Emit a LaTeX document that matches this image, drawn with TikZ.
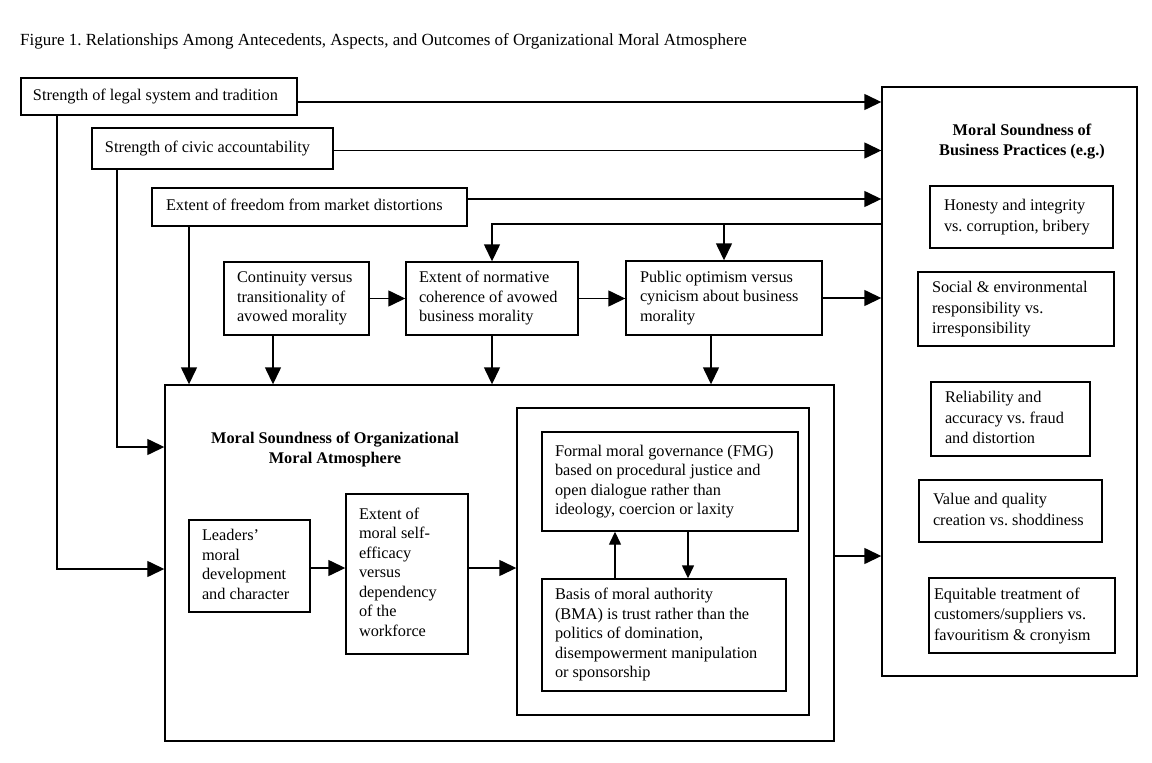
\documentclass[tikz,border=0pt]{standalone}
\usepackage{fontspec}
\setmainfont{Liberation Serif}
\usetikzlibrary{arrows.meta,calc}
\tikzset{
  bx/.style={draw, line width=1.4bp, inner ysep=0pt,
    font=\fontsize{16.3bp}{19.5bp}\selectfont},
  rb/.style={font=\fontsize{16.3bp}{20.5bp}\selectfont},
  ttl/.style={align=center, inner sep=0pt,
    font=\fontsize{16.3bp}{20bp}\selectfont\bfseries},
  arr/.style={line width=1.4bp, -{Triangle[length=17bp,width=16bp]}},
  sarr/.style={line width=1.4bp, -{Triangle[length=13bp,width=12bp]}},
  ln/.style={line width=1.4bp},
}
\newcommand{\mkbox}[8][]{%
  \pgfmathsetmacro{\mbW}{#5-#3}%
  \pgfmathsetmacro{\mbH}{#6-#4}%
  \pgfmathsetmacro{\mbT}{#5-#3-2*#7}%
  \pgfmathsetmacro{\mbX}{(#3+#5)/2}%
  \pgfmathsetmacro{\mbY}{(#4+#6)/2}%
  \node[bx, #1, minimum width=\mbW bp, minimum height=\mbH bp, inner xsep=#7 bp] (#2) at (\mbX,\mbY)
    {\makebox[\mbT bp][l]{\begin{tabular}{@{}l@{}}#8\end{tabular}}};}
\begin{document}
\frenchspacing
\begin{tikzpicture}[x=1bp,y=-1bp]
\useasboundingbox (0,0) rectangle (1152,763);
\fill[white] (0,0) rectangle (1152,763);

\node[anchor=base west, inner sep=0pt, font=\fontsize{17bp}{19bp}\selectfont] (title) at (20,46)
  {Figure 1. Relationships Among Antecedents, Aspects, and Outcomes of Organizational Moral Atmosphere};

% antecedents
\mkbox{A}{21}{78}{297}{115}{12}{Strength of legal system and tradition}
\mkbox{B}{92}{128}{333}{169}{13}{Strength of civic accountability}
\mkbox{C}{152}{188}{467}{226}{14}{Extent of freedom from market distortions}
\mkbox{D}{224}{262}{369}{335}{13}{Continuity versus\\transitionality of\\avowed morality}
\mkbox{E}{406}{262}{578}{335}{13}{Extent of normative\\coherence of avowed\\business morality}
\mkbox{F}{626}{261}{822}{335}{14}{Public optimism versus\\cynicism about business\\morality}

% right box
\mkbox{RB}{882}{87}{1137}{676}{10}{}
\node[ttl] (RBt) at (1022,142) {Moral Soundness of\\Business Practices (e.g.)};
\mkbox[rb]{R1}{930}{186}{1113}{248}{14}{Honesty and integrity\\vs. corruption, bribery}
\mkbox[rb]{R2}{918}{272}{1114}{346}{14}{Social \& environmental\\responsibility vs.\\irresponsibility}
\mkbox[rb]{R3}{931}{382}{1090}{456}{14}{Reliability and\\accuracy vs. fraud\\and distortion}
\mkbox[rb]{R4}{919}{480}{1102}{542}{14}{Value and quality\\creation vs. shoddiness}
\mkbox[rb]{R5}{929}{578}{1115}{653}{5}{Equitable treatment of\\customers/suppliers vs.\\favouritism \& cronyism}

% main box
\mkbox{M}{165}{385}{834}{741}{10}{}
\node[ttl] (Mt) at (335,449) {Moral Soundness of Organizational\\Moral Atmosphere};
\mkbox{L}{189}{520}{310}{612}{13}{Leaders'\\moral\\development\\and character}
\mkbox{X}{346}{494}{468}{654}{13}{Extent of\\moral self-\\efficacy\\versus\\dependency\\of the\\workforce}
\mkbox{I}{517}{408}{809}{715}{10}{}
\mkbox{FMG}{542}{432}{798}{531}{13}{Formal moral governance (FMG)\\based on procedural justice and\\open dialogue rather than\\ideology, coercion or laxity}
\mkbox{BMA}{542}{579}{786}{691}{13}{Basis of moral authority\\(BMA) is trust rather than the\\politics of domination,\\disempowerment manipulation\\or sponsorship}

% helper coordinates
\coordinate (y224) at (0,224);
\coordinate (y447) at (0,447);
\coordinate (y569) at (0,569);
\coordinate (y568) at (0,568);
\coordinate (y556) at (0,556);
\coordinate (x57) at (57,0);
\coordinate (x117) at (117,0);
\coordinate (x189) at (189,0);
\coordinate (x273) at (273,0);
\coordinate (x711) at (711,0);
\coordinate (x615) at (615,0);
\coordinate (x688) at (688,0);

% antecedents to right box
\coordinate (a1) at ([yshift=-5.5bp]A.east);
\draw[arr] (a1) -- (a1 -| RB.west);
\coordinate (b1) at ([yshift=-2bp]B.east);
\draw[arr] (b1) -- (b1 -| RB.west);
\coordinate (c1) at ([yshift=8bp]C.east);
\draw[arr] (c1) -- (c1 -| RB.west);

% feedback line
\coordinate (fb) at (RB.west |- y224);
\draw[arr] (fb) -| (E.north);
\draw[arr] (fb -| F.north) -- (F.north);

% chain
\draw[arr] (D.east) -- (D.east -| E.west);
\draw[arr] (E.east) -- (E.east -| F.west);
\draw[arr] (F.east) -- (F.east -| RB.west);

% down into main box
\draw[arr] (A.south -| x57) |- (M.west |- y569);
\draw[arr] (B.south -| x117) |- (M.west |- y447);
\draw[arr] (C.south -| x189) -- (M.north -| x189);
\draw[arr] (D.south -| x273) -- (M.north -| x273);
\draw[arr] (E.south) -- (E.south |- M.north);
\draw[arr] (F.south -| x711) -- (M.north -| x711);

% inside main box
\draw[arr] (L.east |- y568) -- (X.west |- y568);
\draw[arr] (X.east |- y568) -- (I.west |- y568);
\draw[sarr] (BMA.north -| x615) -- (FMG.south -| x615);
\draw[sarr] (FMG.south -| x688) -- (BMA.north -| x688);

% main box to right box
\draw[arr] (M.east |- y556) -- (RB.west |- y556);
\end{tikzpicture}
\end{document}
